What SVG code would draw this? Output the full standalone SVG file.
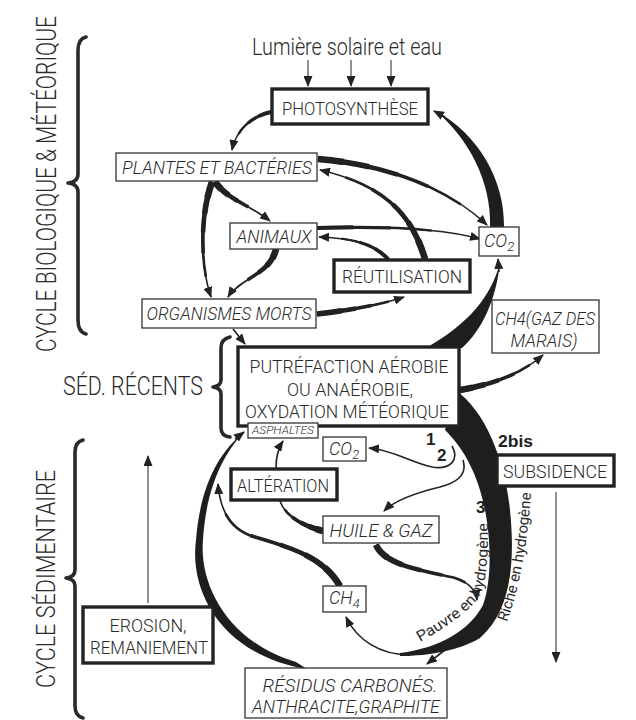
<svg xmlns="http://www.w3.org/2000/svg" xmlns:xlink="http://www.w3.org/1999/xlink" width="636" height="720" viewBox="0 0 636 720">
<style>
.tx{font-family:Roboto,"Liberation Sans Narrow","DejaVu Sans Condensed","Liberation Sans",sans-serif;font-weight:300;fill:#2a2a2a}
.it{font-style:italic}
.bd{font-family:"Liberation Sans","DejaVu Sans",sans-serif;font-weight:bold;fill:#1e1e1e}
.bx{fill:#fff;stroke:#333;stroke-width:1.3}
.bk{fill:#fff;stroke:#222;stroke-width:3.4}
.ln{fill:none;stroke:#222;stroke-width:1.6}
.hl{fill:none;stroke:#333;stroke-width:1.1}
.fl{fill:#1e1e1e;stroke:none}
.br{fill:none;stroke:#2a2a2a;stroke-width:3.6;stroke-linejoin:round;stroke-linecap:round}
.a1,.a2,.a3,.a4,.a5,.b1,.b2,.b3{fill:none;stroke:#222;stroke-linecap:butt}
.a1{stroke-width:6.6;stroke-dasharray:14 200}
.a2{stroke-width:5.6;stroke-dasharray:28 200}
.a3{stroke-width:4.6;stroke-dasharray:44 200}
.a4{stroke-width:3.6;stroke-dasharray:62 200}
.a5{stroke-width:2.6;stroke-dasharray:82 200}
.b1{stroke-width:4;stroke-dasharray:22 200}
.b2{stroke-width:3.2;stroke-dasharray:45 200}
.b3{stroke-width:2.4;stroke-dasharray:70 200}
</style>
<defs>
<marker id="ah" markerWidth="11" markerHeight="9" refX="10" refY="4.5" orient="auto" markerUnits="userSpaceOnUse"><path d="M0,0 L11,4.5 L0,9 Z" fill="#222"/></marker>
<path id="tpR" d="M507,622 Q526,570 531,492"/>
<path id="tpP" d="M420,642 C445,628 470,612 480,595 C487,580 488,560 488,516"/>
<path id="p1" pathLength="100" d="M271,112 C252,116 236,130 232,150"/>
<path id="p4" pathLength="100" d="M318,159 C390,165 450,190 487,225"/>
<path id="p5" pathLength="100" d="M425,259 C412,215 385,185 320,170"/>
<path id="p6" pathLength="100" d="M317,228 C380,226 440,228 480,239"/>
<path id="p7" pathLength="100" d="M388,259 C375,245 355,238 319,237"/>
<path id="p8" pathLength="100" d="M215,182 C228,200 250,205 270,221"/>
<path id="p9" pathLength="100" d="M212,182 C200,215 200,265 211,297"/>
<path id="p10" pathLength="100" d="M276,249 C270,275 240,278 228,297"/>
<path id="p11" pathLength="100" d="M317,314 C350,310 380,305 404,297"/>
<path id="p13" pathLength="100" d="M460,390 C490,385 520,375 543,355"/>
<path id="p16" pathLength="100" d="M340,586 C325,560 300,550 255,537 C230,530 220,510 218,484"/>
<path id="p17" pathLength="100" d="M323,531 C300,525 285,515 280,501"/>
<path id="p19" pathLength="100" d="M376,545 C385,565 420,570 455,578 C470,583 476,590 477,600"/>
</defs>

<g id="connectors">
  <path class="hl" d="M308,60 L308,86" marker-end="url(#ah)"/>
  <path class="hl" d="M351,60 L351,86" marker-end="url(#ah)"/>
  <path class="hl" d="M391,60 L391,86" marker-end="url(#ah)"/>
  <!-- Photosynthèse -> Plantes -->
  <use xlink:href="#p1" class="ln" marker-end="url(#ah)"/>
  <use xlink:href="#p1" class="b1"/><use xlink:href="#p1" class="b2"/><use xlink:href="#p1" class="b3"/>
  <!-- CO2 -> Photosynthèse -->
  <path class="fl" d="M504,227 C505,180 478,134 436,111 C468,138 492,182 490,227 Z"/>
  <path class="ln" d="M445,117 L434,111" marker-end="url(#ah)"/>
  <!-- Putréfaction -> CO2 -->
  <path class="fl" d="M462,348 C482,330 496,300 500,263 C491,296 470,323 426,348 Z"/>
  <path class="ln" d="M499,272 L498,259" marker-end="url(#ah)"/>
  <!-- Plantes -> CO2 -->
  <use xlink:href="#p4" class="ln" marker-end="url(#ah)"/>
  <use xlink:href="#p4" class="a1"/><use xlink:href="#p4" class="a2"/><use xlink:href="#p4" class="a3"/><use xlink:href="#p4" class="a4"/><use xlink:href="#p4" class="a5"/>
  <!-- Réutilisation -> Plantes -->
  <use xlink:href="#p5" class="ln" marker-end="url(#ah)"/>
  <use xlink:href="#p5" class="a1"/><use xlink:href="#p5" class="a2"/><use xlink:href="#p5" class="a3"/><use xlink:href="#p5" class="a4"/><use xlink:href="#p5" class="a5"/>
  <!-- Animaux -> CO2 -->
  <use xlink:href="#p6" class="ln" marker-end="url(#ah)"/>
  <use xlink:href="#p6" class="b1"/><use xlink:href="#p6" class="b2"/><use xlink:href="#p6" class="b3"/>
  <!-- Réutilisation -> Animaux -->
  <use xlink:href="#p7" class="ln" marker-end="url(#ah)"/>
  <use xlink:href="#p7" class="b1"/><use xlink:href="#p7" class="b2"/><use xlink:href="#p7" class="b3"/>
  <!-- Plantes -> Animaux -->
  <use xlink:href="#p8" class="ln" marker-end="url(#ah)"/>
  <use xlink:href="#p8" class="a1"/><use xlink:href="#p8" class="a2"/><use xlink:href="#p8" class="a3"/><use xlink:href="#p8" class="a4"/>
  <!-- Plantes -> Organismes morts -->
  <use xlink:href="#p9" class="ln" marker-end="url(#ah)"/>
  <use xlink:href="#p9" class="a1"/><use xlink:href="#p9" class="a2"/><use xlink:href="#p9" class="a3"/><use xlink:href="#p9" class="a4"/><use xlink:href="#p9" class="a5"/>
  <!-- Animaux -> Organismes morts -->
  <use xlink:href="#p10" class="ln" marker-end="url(#ah)"/>
  <use xlink:href="#p10" class="a1"/><use xlink:href="#p10" class="a2"/><use xlink:href="#p10" class="a3"/><use xlink:href="#p10" class="a4"/>
  <!-- Organismes morts -> Réutilisation -->
  <use xlink:href="#p11" class="ln" marker-end="url(#ah)"/>
  <use xlink:href="#p11" class="a2"/><use xlink:href="#p11" class="a3"/><use xlink:href="#p11" class="a4"/><use xlink:href="#p11" class="a5"/>
  <!-- Organismes morts -> Putréfaction -->
  <path class="ln" d="M233,329 L245,344" marker-end="url(#ah)"/>
  <!-- Putréfaction -> CH4 marais -->
  <use xlink:href="#p13" class="ln" marker-end="url(#ah)"/>
  <use xlink:href="#p13" class="a1"/><use xlink:href="#p13" class="a2"/><use xlink:href="#p13" class="a3"/><use xlink:href="#p13" class="a4"/><use xlink:href="#p13" class="a5"/>
  <!-- Main dark band -->
  <path class="fl" d="M455,390 C485,410 505,460 510,510 C515,560 512,610 480,638 C460,650 430,656 400,656 L400,653 C440,648 470,630 483,605 C492,580 491,540 485,510 C478,475 465,450 445,430 Z"/>
  <path class="ln" d="M410,655 C380,655 357,640 346,617" marker-end="url(#ah)"/>
  <path class="ln" d="M450,646 L427,664" marker-end="url(#ah)"/>
  <!-- 1 & 2 -->
  <path class="ln" d="M452,446 C460,460 450,470 432,467 C410,462 393,450 369,448" marker-end="url(#ah)"/>
  <path class="ln" d="M463,460 C468,476 455,483 440,487 C415,493 395,500 384,511" marker-end="url(#ah)"/>
  <!-- Résidus -> Asphaltes (left loop) -->
  <path class="fl" d="M307,669 C222,655 189,592 196,540 C200,488 218,453 243,433 C222,456 206,490 203,540 C199,585 228,642 296,662 Z"/>
  <path class="ln" d="M235,439 L244,432" marker-end="url(#ah)"/>
  <!-- CH4 -> up -->
  <use xlink:href="#p16" class="ln" marker-end="url(#ah)"/>
  <use xlink:href="#p16" class="a1"/><use xlink:href="#p16" class="a2"/><use xlink:href="#p16" class="a3"/><use xlink:href="#p16" class="a4"/><use xlink:href="#p16" class="a5"/>
  <!-- Huile -> Altération -->
  <use xlink:href="#p17" class="ln"/>
  <use xlink:href="#p17" class="a1"/><use xlink:href="#p17" class="a2"/><use xlink:href="#p17" class="a3"/><use xlink:href="#p17" class="a4"/><use xlink:href="#p17" class="a5"/>
  <!-- Altération -> Asphaltes -->
  <path class="ln" d="M276,468 C276,455 279,447 283,441" marker-end="url(#ah)"/>
  <!-- Huile -> Pauvre en hydrogène -->
  <use xlink:href="#p19" class="ln" marker-end="url(#ah)"/>
  <use xlink:href="#p19" class="a1"/><use xlink:href="#p19" class="a2"/><use xlink:href="#p19" class="a3"/><use xlink:href="#p19" class="a4"/><use xlink:href="#p19" class="a5"/>
  <!-- Subsidence down -->
  <path class="hl" d="M556,492 L556,662" marker-end="url(#ah)"/>
  <!-- Erosion up -->
  <path class="hl" d="M148,603 L148,456" marker-end="url(#ah)"/>
  <!-- Curved labels -->
  <text class="tx" font-size="15" style="font-weight:400"><textPath xlink:href="#tpR" textLength="132" lengthAdjust="spacingAndGlyphs">Riche en hydrogène</textPath></text>
  <text class="tx" font-size="15" style="font-weight:400"><textPath xlink:href="#tpP" textLength="150" lengthAdjust="spacingAndGlyphs">Pauvre en hydrogène</textPath></text>
  <text class="bd" font-size="17" x="426" y="445">1</text>
  <text class="bd" font-size="17" x="437" y="461">2</text>
  <text class="bd" font-size="17" x="498" y="447" textLength="35" lengthAdjust="spacingAndGlyphs">2bis</text>
  <text class="bd" font-size="17" x="476" y="513">3</text>
</g>

<g id="labels">
  <text class="tx" font-size="23" x="252" y="55" textLength="190" lengthAdjust="spacingAndGlyphs">Lumière solaire et eau</text>
  <text class="tx" font-size="27" text-anchor="middle" transform="translate(56,184) rotate(-90)" textLength="336" lengthAdjust="spacingAndGlyphs">CYCLE BIOLOGIQUE &amp; MÉTÉORIQUE</text>
  <text class="tx" font-size="26" text-anchor="middle" transform="translate(55,579) rotate(-90)" textLength="218" lengthAdjust="spacingAndGlyphs">CYCLE SÉDIMENTAIRE</text>
  <text class="tx" font-size="25" x="63" y="395" textLength="140" lengthAdjust="spacingAndGlyphs">SÉD. RÉCENTS</text>
  <path class="br" d="M86,37 Q78,39 78,50 L78,174 Q78,182 68,183 Q78,184 78,192 L78,320 Q78,332 86,334"/>
  <path class="br" d="M230,337 Q221,339 221,348 L221,380 Q221,386 213,387 Q221,388 221,394 L221,428 Q221,436 230,437"/>
  <path class="br" d="M83,440 Q75,442 75,452 L75,570 Q75,577 66,578 Q75,579 75,586 L75,706 Q75,716 83,718"/>
</g>

<g id="photosynthese"><rect class="bk" x="272" y="89" width="156" height="35"/><text class="tx" font-size="19" x="350" y="115" text-anchor="middle" textLength="136" lengthAdjust="spacingAndGlyphs">PHOTOSYNTHÈSE</text></g>
<g id="plantes"><rect class="bx" x="116" y="153" width="201" height="28"/><text class="tx it" font-size="19" x="217" y="174" text-anchor="middle" textLength="190" lengthAdjust="spacingAndGlyphs">PLANTES ET BACTÉRIES</text></g>
<g id="animaux"><rect class="bx" x="230" y="223" width="87" height="26"/><text class="tx it" font-size="19" x="274" y="243" text-anchor="middle" textLength="75" lengthAdjust="spacingAndGlyphs">ANIMAUX</text></g>
<g id="reutilisation"><rect class="bk" x="334" y="260" width="136" height="32"/><text class="tx" font-size="19" x="402" y="283" text-anchor="middle" textLength="120" lengthAdjust="spacingAndGlyphs">RÉUTILISATION</text></g>
<g id="co2-haut"><rect class="bx" x="479" y="227" width="40" height="29"/><text class="tx it" font-size="18" x="484" y="247">CO<tspan font-size="13" dy="4">2</tspan></text></g>
<g id="organismes"><rect class="bx" x="142" y="299" width="174" height="29"/><text class="tx it" font-size="19" x="229" y="320" text-anchor="middle" textLength="165" lengthAdjust="spacingAndGlyphs">ORGANISMES MORTS</text></g>
<g id="ch4-marais"><rect class="bx" x="492" y="300" width="107" height="53"/><text class="tx it" font-size="18" x="545" y="325" text-anchor="middle" textLength="100" lengthAdjust="spacingAndGlyphs">CH4(GAZ DES</text><text class="tx it" font-size="18" x="544" y="347" text-anchor="middle" textLength="67" lengthAdjust="spacingAndGlyphs">MARAIS)</text></g>
<g id="putrefaction"><rect class="bk" x="238" y="347" width="221" height="79"/><text class="tx" font-size="19" x="349" y="373" text-anchor="middle" textLength="199" lengthAdjust="spacingAndGlyphs">PUTRÉFACTION AÉROBIE</text><text class="tx" font-size="19" x="350" y="396" text-anchor="middle" textLength="126" lengthAdjust="spacingAndGlyphs">OU ANAÉROBIE,</text><text class="tx" font-size="19" x="347" y="418" text-anchor="middle" textLength="204" lengthAdjust="spacingAndGlyphs">OXYDATION MÉTÉORIQUE</text></g>
<g id="asphaltes"><rect class="bx" x="248" y="423" width="70" height="15"/><text class="tx it" font-size="11" x="283" y="434" text-anchor="middle" textLength="62" lengthAdjust="spacingAndGlyphs">ASPHALTES</text></g>
<g id="co2-bas"><rect class="bx" x="323" y="437" width="43" height="24"/><text class="tx it" font-size="18" x="329" y="455">CO<tspan font-size="13" dy="4">2</tspan></text></g>
<g id="subsidence"><rect class="bk" x="497" y="455" width="117" height="31"/><text class="tx" font-size="19" x="555" y="478" text-anchor="middle" textLength="104" lengthAdjust="spacingAndGlyphs">SUBSIDENCE</text></g>
<g id="alteration"><rect class="bk" x="231" y="469" width="106" height="31"/><text class="tx" font-size="19" x="283" y="492" text-anchor="middle" textLength="92" lengthAdjust="spacingAndGlyphs">ALTÉRATION</text></g>
<g id="huile-gaz"><rect class="bx" x="323" y="516" width="116" height="27"/><text class="tx it" font-size="19" x="381" y="537" text-anchor="middle" textLength="103" lengthAdjust="spacingAndGlyphs">HUILE &amp; GAZ</text></g>
<g id="ch4-bas"><rect class="bx" x="323" y="586" width="43" height="26"/><text class="tx it" font-size="18" x="329" y="604">CH<tspan font-size="13" dy="4">4</tspan></text></g>
<g id="erosion"><rect class="bk" x="83" y="607" width="130" height="56"/><text class="tx" font-size="18" x="148" y="632" text-anchor="middle" textLength="77" lengthAdjust="spacingAndGlyphs">EROSION,</text><text class="tx" font-size="18" x="149" y="654" text-anchor="middle" textLength="118" lengthAdjust="spacingAndGlyphs">REMANIEMENT</text></g>
<g id="residus"><rect class="bx" x="245" y="668" width="202" height="50"/><text class="tx it" font-size="18" x="350" y="692" text-anchor="middle" textLength="175" lengthAdjust="spacingAndGlyphs">RÉSIDUS CARBONÉS.</text><text class="tx it" font-size="18" x="346" y="713" text-anchor="middle" textLength="188" lengthAdjust="spacingAndGlyphs">ANTHRACITE,GRAPHITE</text></g>
</svg>
